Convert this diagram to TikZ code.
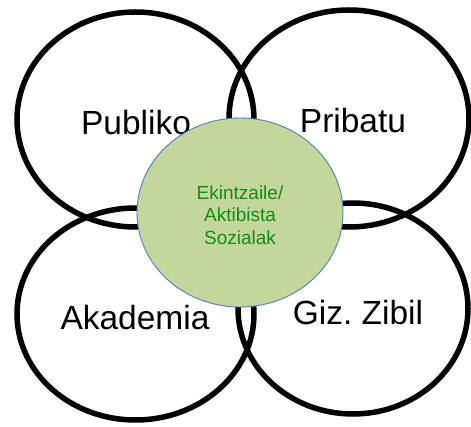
\documentclass[tikz,border=0pt]{standalone}
\usepackage{fontspec}
\setmainfont{Liberation Sans}
\usetikzlibrary{shapes.geometric}
\definecolor{greenfill}{RGB}{195,214,155}
\definecolor{blueline}{RGB}{79,129,189}
\definecolor{greentext}{RGB}{20,140,20}
\tikzset{
  ring/.style={ellipse, draw=black, line width=5.5pt, inner sep=0pt},
  bigtext/.style={font=\fontsize{33.5}{36}\selectfont, text=black, inner sep=0pt, anchor=base},
  core/.style={ellipse, draw=blueline, line width=0.9pt, fill=greenfill, inner sep=0pt},
  coretext/.style={font=\fontsize{19}{22.5}\selectfont, text=greentext, align=center, inner sep=0pt}
}
\begin{document}
\begin{tikzpicture}[x=1pt,y=-1pt]
\useasboundingbox (0,0) rectangle (471,427);
\fill[white] (0,0) rectangle (471,427);
% rings
\node[ring, minimum width=237pt, minimum height=215pt] (pub) at (135.5,119.5) {};
\node[ring, minimum width=240pt, minimum height=217pt] (pri) at (349,118.5) {};
\node[ring, minimum width=237pt, minimum height=212pt] (aka) at (135.5,314) {};
\node[ring, minimum width=230pt, minimum height=211pt] (giz) at (353,308.5) {};
% labels
\node[bigtext] (publ) at (136,135) {Publiko};
\node[bigtext] (pril) at (353,133) {Pribatu};
\node[bigtext] (akal) at (135,330) {Akademia};
\node[bigtext] (gizl) at (358,325) {Giz.\ Zibil};
% centre
\node[core, minimum width=206pt, minimum height=189pt] (ctr) at (240,212.5) {};
\node[coretext] (ctrl) at (240,215) {Ekintzaile/\\Aktibista\\Sozialak};
\end{tikzpicture}
\end{document}
